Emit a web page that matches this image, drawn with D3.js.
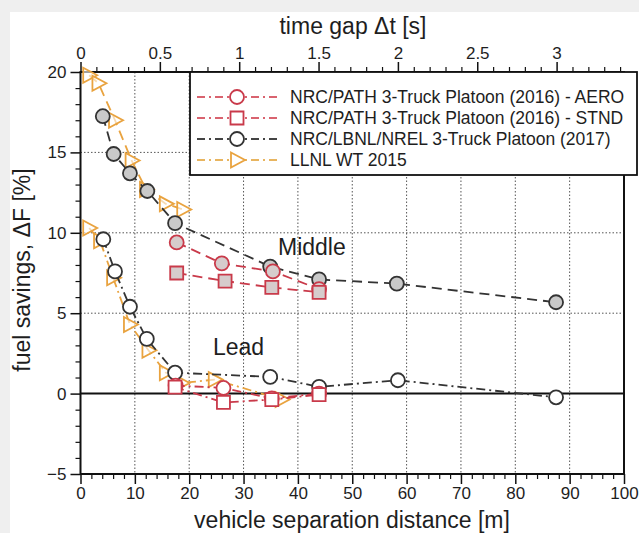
<!DOCTYPE html>
<html><head><meta charset="utf-8">
<script src="https://cdn.jsdelivr.net/npm/d3@7"></script>
<style>body{margin:0;background:#efefef;} svg{display:block;font-family:"Liberation Sans",Arial,sans-serif;}</style>
</head><body><svg id="c" width="639" height="533"></svg>
<script>
// ---- data ----
const aeroMidX = [17.7, 26.0, 35.4, 43.9];
const aeroMidY = [9.4, 8.1, 7.6, 6.5];
const aeroLeadX = [17.5, 26.3, 35.2, 43.9];
const aeroLeadY = [0.5, 0.35, -0.3, 0.0];
const stndMidX = [17.7, 26.6, 35.2, 43.9];
const stndMidY = [7.5, 7.0, 6.6, 6.3];
const stndLeadX = [17.4, 26.3, 35.2, 43.9];
const stndLeadY = [0.4, -0.55, -0.37, -0.06];
const lbnlMidX = [4.1, 6.1, 9.1, 12.3, 17.4, 34.9, 43.9, 58.2, 87.5];
const lbnlMidY = [17.25, 14.9, 13.7, 12.6, 10.6, 7.9, 7.1, 6.84, 5.68];
const lbnlLeadX = [4.2, 6.35, 9.1, 12.2, 17.4, 34.9, 43.9, 58.4, 87.5];
const lbnlLeadY = [9.6, 7.6, 5.4, 3.4, 1.3, 1.04, 0.42, 0.83, -0.23];
const llnlMidX = [1.6, 3.3, 6.35, 9.4, 12.05, 15.7, 18.9];
const llnlMidY = [19.8, 19.3, 17.0, 14.5, 12.7, 11.8, 11.45];
const llnlLeadX = [1.6, 3.6, 6.0, 9.1, 12.5, 15.7, 18.6, 24.7, 37.0];
const llnlLeadY = [10.3, 9.5, 7.2, 4.3, 2.7, 1.3, 0.66, 0.87, -0.37];
const legendLabels = ["NRC/PATH 3-Truck Platoon (2016) - AERO","NRC/PATH 3-Truck Platoon (2016) - STND","NRC/LBNL/NREL 3-Truck Platoon (2017)","LLNL WT 2015"];
const xTicks = [0,10,20,30,40,50,60,70,80,90,100];
const yTicks = [-5,0,5,10,15,20];
const tTicks = [0,0.5,1,1.5,2,2.5,3];
const speed = 29.2; // m/s used for time-gap axis

(function(){
// ---- layout ----
const svg = d3.select("#c");
const L = 80.5, R = 624, T = 72, B = 474;
const x = d3.scaleLinear().domain([0,100]).range([L,R]);
const y = d3.scaleLinear().domain([-5,20]).range([B,T]);
const xt = d3.scaleLinear().domain([0,100/speed]).range([L,R]);

svg.append("rect").attr("x",10).attr("y",12).attr("width",629).attr("height",521).attr("fill","#fff");

const RED = "#c93a4a", REDL = "#d9636f", BLK = "#333", ORG = "#e9a33f", GRAYF = "#c9c9c9";
const TXT = "#1e1e1e";

// grid
const g = svg.append("g");
[10,20,30,40,50,60,70,80,90].forEach(v=>g.append("line").attr("x1",x(v)).attr("x2",x(v)).attr("y1",T).attr("y2",B)
  .attr("stroke","#555").attr("stroke-width",1).attr("stroke-dasharray","1.5,2"));
[5,10,15].forEach(v=>g.append("line").attr("x1",L).attr("x2",R).attr("y1",y(v)).attr("y2",y(v))
  .attr("stroke","#555").attr("stroke-width",1).attr("stroke-dasharray","1.5,2"));
g.append("line").attr("x1",L).attr("x2",R).attr("y1",y(0)).attr("y2",y(0)).attr("stroke","#111").attr("stroke-width",2);

// axes
function styleAxis(sel){ sel.select(".domain").remove(); sel.selectAll("line").attr("stroke","#111").attr("stroke-width",1.5);
  sel.selectAll("text").attr("fill",TXT).attr("font-size","17px").attr("font-family","Liberation Sans, Arial"); }
function minor(sel){ sel.select(".domain").remove(); sel.selectAll("line").attr("stroke","#111").attr("stroke-width",1.2); }
const axB = svg.append("g").attr("transform",`translate(0,${B})`)
  .call(d3.axisBottom(x).tickValues(xTicks).tickFormat(d3.format("d")).tickSize(10).tickPadding(3));
styleAxis(axB);
svg.append("g").attr("transform",`translate(0,${B})`)
  .call(d3.axisBottom(x).tickValues(d3.range(0,101,2).filter(v=>v%10)).tickFormat("").tickSize(5)).call(minor);
const axL = svg.append("g").attr("transform",`translate(${L},0)`)
  .call(d3.axisLeft(y).tickValues(yTicks).tickSize(10).tickPadding(4));
styleAxis(axL);
svg.append("g").attr("transform",`translate(${L},0)`)
  .call(d3.axisLeft(y).tickValues(d3.range(-5,21,1).filter(v=>v%5)).tickFormat("").tickSize(5)).call(minor);
const axT = svg.append("g").attr("transform",`translate(0,${T})`)
  .call(d3.axisTop(xt).tickValues(tTicks).tickFormat(d=>String(d)).tickSize(10).tickPadding(3));
styleAxis(axT);
svg.append("g").attr("transform",`translate(0,${T})`)
  .call(d3.axisTop(xt).tickValues(d3.range(1,35).map(v=>v/10).filter(v=>Math.abs(v*2-Math.round(v*2))>1e-6)).tickFormat("").tickSize(5)).call(minor);

// frame
svg.append("rect").attr("x",L).attr("y",T).attr("width",R-L).attr("height",B-T).attr("fill","none").attr("stroke","#111").attr("stroke-width",2);

// titles
svg.append("text").attr("x",353).attr("y",34).attr("text-anchor","middle").attr("font-size","23px").attr("fill",TXT).text("time gap \u0394t [s]");
svg.append("text").attr("x",352).attr("y",528).attr("text-anchor","middle").attr("font-size","23px").attr("fill",TXT).text("vehicle separation distance [m]");
svg.append("text").attr("transform","translate(30,270) rotate(-90)").attr("text-anchor","middle").attr("font-size","23px").attr("fill",TXT).text("fuel savings, \u0394F [%]");
svg.append("text").attr("x",278).attr("y",255).attr("font-size","23px").attr("fill",TXT).text("Middle");
svg.append("text").attr("x",213).attr("y",355).attr("font-size","23px").attr("fill",TXT).text("Lead");

// series
const line = d3.line().x(d=>x(d[0])).y(d=>y(d[1]));
const zip = (a,b)=>a.map((v,i)=>[v,b[i]]);
const triPath = "M-6,-7.5L8,0L-6,7.5Z";
const sqPath = "M-6.5,-6.5H6.5V6.5H-6.5Z";
function series(xs, ys, color, dash, shape, fill){
  const data = zip(xs,ys);
  svg.append("path").attr("d",line(data)).attr("fill","none").attr("stroke",color).attr("stroke-width",1.8).attr("stroke-dasharray",dash);
  const gg = svg.append("g");
  data.forEach(d=>{
    if(shape==="circle") gg.append("circle").attr("cx",x(d[0])).attr("cy",y(d[1])).attr("r",7).attr("fill",fill).attr("stroke",color).attr("stroke-width",1.8);
    else gg.append("path").attr("d",shape==="square"?sqPath:triPath).attr("transform",`translate(${x(d[0])},${y(d[1])})`).attr("fill",fill).attr("stroke",color).attr("stroke-width",1.8);
  });
}
const DASH = "10,6", DASHDOT = "9,4,2,4";
series(llnlMidX, llnlMidY, ORG, DASH, "tri", "rgba(255,255,255,0.6)");
series(llnlLeadX, llnlLeadY, ORG, DASHDOT, "tri", "rgba(255,255,255,0.6)");
series(lbnlMidX, lbnlMidY, BLK, DASH, "circle", GRAYF);
series(lbnlLeadX, lbnlLeadY, BLK, DASHDOT, "circle", "#fff");
series(aeroMidX, aeroMidY, RED, DASH, "circle", "#d6cccc");
series(aeroLeadX, aeroLeadY, RED, DASHDOT, "circle", "#fff");
series(stndMidX, stndMidY, RED, DASH, "square", "#d6cccc");
series(stndLeadX, stndLeadY, RED, DASHDOT, "square", "#fff");

// legend
const lg = svg.append("g");
lg.append("rect").attr("x",190).attr("y",72).attr("width",447).attr("height",103).attr("fill","#fff").attr("stroke","#111").attr("stroke-width",1.8);
const legColors = [REDL, REDL, "#444", "#e8b560"];
const legShapes = ["circle","square","circle","tri"];
const legMk = [RED, RED, BLK, ORG];
legendLabels.forEach((t,i)=>{
  const yy = 97 + i*21;
  lg.append("line").attr("x1",197).attr("x2",277).attr("y1",yy).attr("y2",yy).attr("stroke",legColors[i]).attr("stroke-width",1.8).attr("stroke-dasharray","8,4,2,4");
  if(legShapes[i]==="circle") lg.append("circle").attr("cx",237).attr("cy",yy).attr("r",7).attr("fill","#fff").attr("stroke",legMk[i]).attr("stroke-width",1.8);
  else lg.append("path").attr("d",legShapes[i]==="square"?sqPath:triPath).attr("transform",`translate(237,${yy})`).attr("fill","#fff").attr("stroke",legMk[i]).attr("stroke-width",1.8);
  lg.append("text").attr("x",290).attr("y",yy+6).attr("font-size","17.5px").attr("fill",TXT).text(t);
});
})();
</script></body></html>
